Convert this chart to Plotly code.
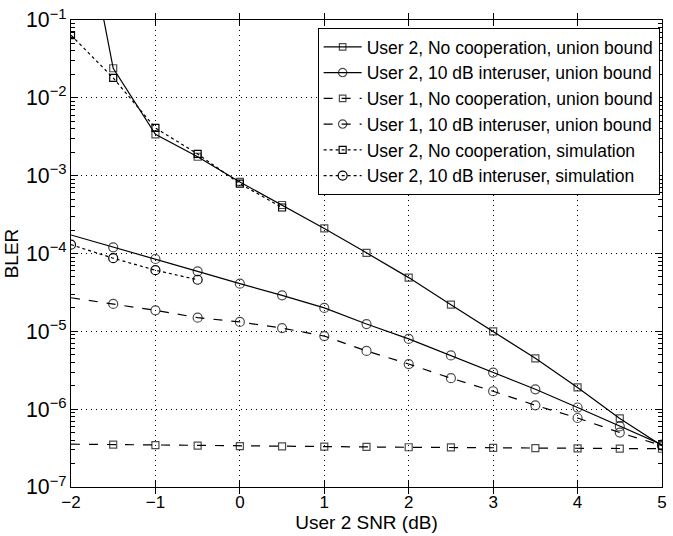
import plotly.graph_objects as go

snr = [-2, -1.5, -1, -0.5, 0, 0.5, 1, 1.5, 2, 2.5, 3, 3.5, 4, 4.5, 5]

u2_nocoop_ub = [15, 2.4e-2, 3.4e-3, 1.75e-3, 8.3e-4, 4.2e-4, 2.1e-4, 1.02e-4,
                4.9e-5, 2.2e-5, 1.0e-5, 4.5e-6, 1.9e-6, 7.6e-7, 3.4e-7]
u2_coop_ub = [1.73e-4, 1.2e-4, 8.5e-5, 5.9e-5, 4.1e-5, 2.9e-5, 2.0e-5, 1.24e-5,
              8.0e-6, 4.9e-6, 2.95e-6, 1.8e-6, 1.05e-6, 6.0e-7, 3.5e-7]
u1_nocoop_ub = [3.55e-7, 3.5e-7, 3.45e-7, 3.4e-7, 3.35e-7, 3.32e-7, 3.3e-7, 3.27e-7,
                3.24e-7, 3.22e-7, 3.18e-7, 3.16e-7, 3.14e-7, 3.12e-7, 3.1e-7]
u1_coop_ub = [2.7e-5, 2.25e-5, 1.86e-5, 1.5e-5, 1.32e-5, 1.1e-5, 8.7e-6, 5.6e-6,
              3.8e-6, 2.5e-6, 1.7e-6, 1.12e-6, 7.7e-7, 5.0e-7, 3.4e-7]

snr_sim_nocoop = [-2, -1.5, -1, -0.5, 0, 0.5]
u2_nocoop_sim = [6.4e-2, 1.8e-2, 4.1e-3, 1.9e-3, 7.9e-4, 3.9e-4]
snr_sim_coop = [-2, -1.5, -1, -0.5]
u2_coop_sim = [1.3e-4, 8.7e-5, 6.1e-5, 4.6e-5]

names = [
    "User 2, No cooperation, union bound",
    "User 2, 10 dB interuser, union bound",
    "User 1, No cooperation, union bound",
    "User 1, 10 dB interuser, union bound",
    "User 2, No cooperation, simulation",
    "User 2, 10 dB interuser, simulation",
]

xtickvals = [-2, -1, 0, 1, 2, 3, 4, 5]
xticktext = ["\u22122", "\u22121", "0", "1", "2", "3", "4", "5"]

decades = [-7, -6, -5, -4, -3, -2]
yminorvals = [m * 10.0 ** d for d in decades for m in range(2, 10)]

SQ = 7
CI = 9
ub_sq_sizes = [0] + [SQ] * (len(snr) - 1)
ub_ci_sizes = [0] + [CI] * (len(snr) - 1)

fig = go.Figure()

def add(x, y, name, dash, symbol, sizes):
    fig.add_trace(go.Scatter(
        x=x, y=y, name=name, mode="lines+markers",
        line=dict(color="black", width=1.2, dash=dash),
        marker=dict(symbol=symbol, size=sizes, color="black",
                    line=dict(color="black", width=1.2)),
        cliponaxis=True,
    ))

add(snr, u2_nocoop_ub, names[0], "solid", "square-open", ub_sq_sizes)
add(snr, u2_coop_ub, names[1], "solid", "circle-open", ub_ci_sizes)
add(snr, u1_nocoop_ub, names[2], "dash", "square-open", ub_sq_sizes)
add(snr, u1_coop_ub, names[3], "dash", "circle-open", ub_ci_sizes)
add(snr_sim_nocoop, u2_nocoop_sim, names[4], "dot", "square-open", SQ)
add(snr_sim_coop, u2_coop_sim, names[5], "dot", "circle-open", CI)

# invisible helper trace so the overlay axis carrying the minor ticks is drawn
fig.add_trace(go.Scatter(x=[snr[0]], y=[u1_nocoop_ub[0]], yaxis="y2",
                         mode="markers", marker=dict(opacity=0),
                         showlegend=False, hoverinfo="skip"))

font = "Liberation Sans, Arial, Helvetica, sans-serif"
GRID = "1px,4px"

fig.update_layout(
    width=673, height=536,
    margin=dict(l=71, r=6, t=20, b=49),
    paper_bgcolor="white", plot_bgcolor="white",
    font=dict(family=font, size=17, color="black"),
    showlegend=True,
    legend=dict(
        x=0.996, y=0.983, xanchor="right", yanchor="top",
        bgcolor="white", bordercolor="black", borderwidth=1,
        font=dict(family=font, size=17.5, color="black"),
        tracegroupgap=0, itemwidth=38,
    ),
    xaxis=dict(
        range=[-2, 5], tickvals=xtickvals, ticktext=xticktext,
        ticks="inside", ticklen=6, tickcolor="black",
        showline=True, linecolor="black", linewidth=1, mirror="allticks",
        showgrid=True, gridcolor="black", gridwidth=1, griddash=GRID,
        zeroline=False,
        title=dict(text="User 2 SNR (dB)", standoff=0, font=dict(size=19)),
        tickfont=dict(size=17),
    ),
    yaxis=dict(
        type="log", range=[-7, -1], dtick=1, tick0=0,
        exponentformat="power", showexponent="all",
        ticks="inside", ticklen=7, tickcolor="black",
        showline=True, linecolor="black", linewidth=1, mirror="allticks",
        showgrid=True, gridcolor="black", gridwidth=1, griddash=GRID,
        zeroline=False,
        title=dict(text="BLER", standoff=2, font=dict(size=19)),
        tickfont=dict(size=17),
    ),
    yaxis2=dict(
        type="log", range=[-7, -1], overlaying="y", side="left",
        tickvals=yminorvals, ticks="inside", ticklen=4, tickcolor="black",
        showticklabels=False, showgrid=False, zeroline=False,
        showline=False, mirror="allticks",
    ),
)

fig.write_html("out.html")
